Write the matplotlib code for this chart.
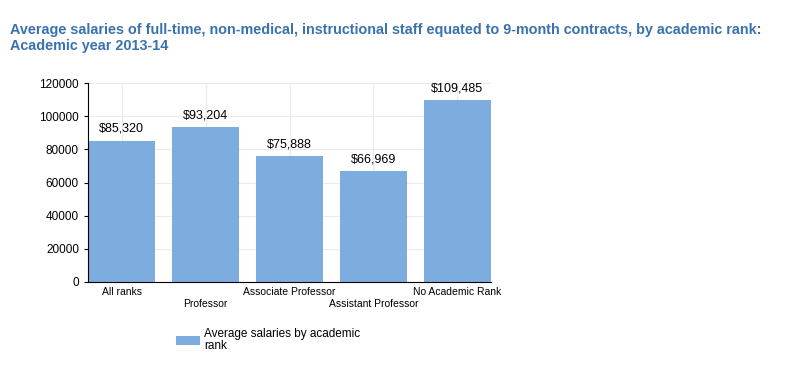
import matplotlib.pyplot as plt

categories = ['All ranks', 'Professor', 'Associate Professor', 'Assistant Professor', 'No Academic Rank']
salaries = [85320, 93204, 75888, 66969, 109485]
value_labels = ['$85,320', '$93,204', '$75,888', '$66,969', '$109,485']
yticks = [0, 20000, 40000, 60000, 80000, 100000, 120000]

plt.rcParams['font.family'] = ['Liberation Sans', 'DejaVu Sans']

fig = plt.figure(figsize=(8.08, 3.69), dpi=100)
ax = fig.add_axes([88 / 808, 1 - 282 / 369, 403 / 808, 199 / 369])

w = 0.8
x = list(range(len(categories)))
bars = ax.bar(x, salaries, width=w, color='#7DADDF', zorder=2,
              label='Average salaries by academic\nrank')
for xi, v, lab in zip(x, salaries, value_labels):
    ax.text(xi, v + 3500, lab, ha='center', va='bottom', fontsize=9)

ax.set_xlim(-w / 2, len(categories) - 1 + w / 2)
ax.set_ylim(0, 120000)
ax.set_yticks(yticks)
ax.set_yticklabels([str(t) for t in yticks], fontsize=8.5)
ax.set_xticks(x)
ax.set_xticklabels(['', '', '', '', ''])
for xi, c in zip(x, categories):
    off = -12 if xi % 2 == 1 else -3.5
    ax.annotate(c, (xi, 0), xytext=(0, off), textcoords='offset points',
                ha='center', va='top', fontsize=7.5)
ax.tick_params(axis='x', length=0)
ax.tick_params(axis='y', length=3)
ax.grid(True, color='#ebebeb', linewidth=0.8, zorder=0)
for s in ['top', 'right']:
    ax.spines[s].set_visible(False)

fig.text(10 / 808, 1 - 38 / 369, 'Average salaries of full-time, non-medical, instructional staff equated to 9-month contracts, by academic rank:\nAcademic year 2013-14',
         color='#3A72B0', fontsize=10.4, fontweight='bold', family='Liberation Sans',
         ha='left', va='center', linespacing=1.1)

leg = fig.legend(handles=[bars], loc='upper left', bbox_to_anchor=(170 / 808, 1 - 322 / 369),
                 frameon=False, fontsize=8.5, handlelength=2, handleheight=0.8,
                 labelspacing=0, handletextpad=0.4, borderpad=0)
for t in leg.get_texts():
    t.set_linespacing(1.0)

fig.savefig('out.png', dpi=100)
